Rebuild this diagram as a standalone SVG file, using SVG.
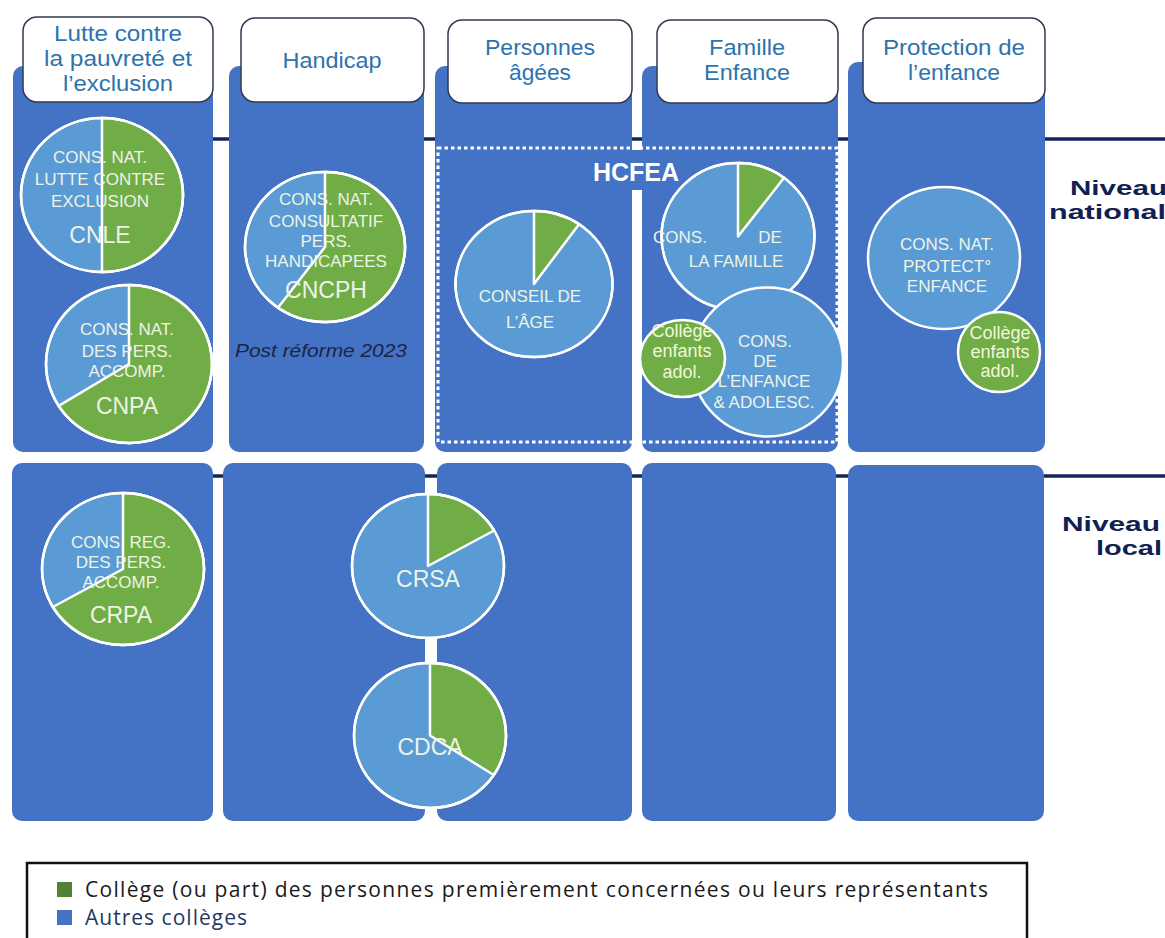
<svg xmlns="http://www.w3.org/2000/svg" width="1165" height="938" viewBox="0 0 1165 938">
<style>
.panel{fill:#4472C4}
.hdr{fill:#fff;stroke:#2F3A4F;stroke-width:1.5}
.htx{font-family:"Liberation Sans",Arial,sans-serif;font-size:21.5px;fill:#2D73AE;text-anchor:middle}
.pb{fill:#5B9BD5;stroke:#fff;stroke-width:2.5}
.pg{fill:#70AD47;stroke:#fff;stroke-width:2.5;stroke-linejoin:round}
.ol{fill:none;stroke:#fff;stroke-width:2.5}
.t{font-family:"Liberation Sans",Arial,sans-serif;font-size:17px;fill:#EEF3E6;text-anchor:middle}
.tb{font-family:"Liberation Sans",Arial,sans-serif;font-size:23px;fill:#EEF3E6;text-anchor:middle}
.tc{font-family:"Liberation Sans",Arial,sans-serif;font-size:18px;fill:#F2F6DA;text-anchor:middle}
.lvl{stroke:#13255A;stroke-width:3.5;fill:none}
.niv{font-family:"Liberation Sans",Arial,sans-serif;font-weight:bold;font-size:21px;fill:#0F2152}
.leg{font-family:"Open Sans","Liberation Sans",sans-serif;font-size:21px}
</style>
<rect width="1165" height="938" fill="#fff"/>
<g id="level-lines">
<line class="lvl" x1="213" y1="139" x2="1165" y2="139"/>
<line class="lvl" x1="213" y1="476" x2="1165" y2="476"/>
</g>
<g id="panels-national">
<rect class="panel" x="13" y="66" width="200" height="386" rx="10"/>
<rect class="panel" x="229" y="66" width="195" height="386" rx="10"/>
<rect class="panel" x="435" y="66" width="197" height="386" rx="10"/>
<rect class="panel" x="642" y="66" width="196" height="386" rx="10"/>
<rect class="panel" x="848" y="62" width="197" height="390" rx="10"/>
</g>
<g id="panels-local">
<rect class="panel" x="12" y="463" width="201" height="358" rx="10"/>
<rect class="panel" x="223" y="463" width="202" height="358" rx="10"/>
<rect class="panel" x="437" y="463" width="195" height="358" rx="10"/>
<rect class="panel" x="642" y="463" width="194" height="358" rx="10"/>
<rect class="panel" x="848" y="465" width="196" height="356" rx="10"/>
</g>
<g id="header-pauvrete">
<rect class="hdr" x="23" y="17" width="190" height="85" rx="14"/>
<text class="htx" x="118" y="41" textLength="128" lengthAdjust="spacingAndGlyphs">Lutte contre</text>
<text class="htx" x="118" y="65.5" textLength="148" lengthAdjust="spacingAndGlyphs">la pauvreté et</text>
<text class="htx" x="118" y="90.5" textLength="110" lengthAdjust="spacingAndGlyphs">l’exclusion</text>
</g>
<g id="header-handicap">
<rect class="hdr" x="241" y="18" width="183" height="84" rx="14"/>
<text class="htx" x="332" y="68" textLength="99" lengthAdjust="spacingAndGlyphs">Handicap</text>
</g>
<g id="header-agees">
<rect class="hdr" x="448" y="20" width="184" height="83" rx="14"/>
<text class="htx" x="540" y="55" textLength="110" lengthAdjust="spacingAndGlyphs">Personnes</text>
<text class="htx" x="540" y="80" textLength="62" lengthAdjust="spacingAndGlyphs">âgées</text>
</g>
<g id="header-famille">
<rect class="hdr" x="657" y="20" width="181" height="83" rx="14"/>
<text class="htx" x="747" y="55" textLength="76" lengthAdjust="spacingAndGlyphs">Famille</text>
<text class="htx" x="747" y="80" textLength="86" lengthAdjust="spacingAndGlyphs">Enfance</text>
</g>
<g id="header-protection">
<rect class="hdr" x="863" y="18" width="182" height="85" rx="14"/>
<text class="htx" x="954" y="55" textLength="142" lengthAdjust="spacingAndGlyphs">Protection de</text>
<text class="htx" x="954" y="80" textLength="92" lengthAdjust="spacingAndGlyphs">l’enfance</text>
</g>
<g id="hcfea">
<rect x="590" y="150" width="94" height="40" fill="#4472C4"/>
<rect x="438" y="148" width="399" height="294" fill="none" stroke="#fff" stroke-width="3" stroke-dasharray="3.5 3"/>
<text x="636" y="181" font-family="Liberation Sans,Arial,sans-serif" font-weight="bold" font-size="25" fill="#fff" text-anchor="middle">HCFEA</text>
</g>
<g id="cnle">
<ellipse class="pb" cx="102" cy="195" rx="81" ry="77"/>
<path class="pg" d="M102,195 L102,118 A81,77 0 0 1 102,272 Z"/>
<ellipse class="ol" cx="102" cy="195" rx="81" ry="77"/>
<text class="t" x="100" y="163">CONS. NAT.</text>
<text class="t" x="100" y="185">LUTTE CONTRE</text>
<text class="t" x="100" y="207">EXCLUSION</text>
<text class="tb" x="100" y="243">CNLE</text>
</g>
<g id="cnpa">
<ellipse class="pb" cx="129" cy="364" rx="83" ry="79"/>
<path class="pg" d="M129,364 L129,285 A83,79 0 1 1 58.61,405.86 Z"/>
<ellipse class="ol" cx="129" cy="364" rx="83" ry="79"/>
<text class="t" x="127" y="335">CONS. NAT.</text>
<text class="t" x="127" y="357">DES PERS.</text>
<text class="t" x="127" y="377">ACCOMP.</text>
<text class="tb" x="127" y="414">CNPA</text>
</g>
<g id="cncph">
<ellipse class="pb" cx="325" cy="247" rx="80" ry="75"/>
<path class="pg" d="M325,247 L325,172 A80,75 0 1 1 277.98,307.68 Z"/>
<ellipse class="ol" cx="325" cy="247" rx="80" ry="75"/>
<text class="t" x="326" y="205">CONS. NAT.</text>
<text class="t" x="326" y="227">CONSULTATIF</text>
<text class="t" x="326" y="247">PERS.</text>
<text class="t" x="326" y="267">HANDICAPEES</text>
<text class="tb" x="326" y="298">CNCPH</text>
</g>
<g id="post-reforme">
<text x="235" y="357" font-family="Liberation Sans,Arial,sans-serif" font-style="italic" font-size="18" fill="#1B2545" textLength="172" lengthAdjust="spacingAndGlyphs">Post réforme 2023</text>
</g>
<g id="conseil-age">
<ellipse class="pb" cx="534" cy="284" rx="78.5" ry="73"/>
<path class="pg" d="M534,284 L534,211 A78.5,73 0 0 1 579.03,224.2 Z"/>
<ellipse class="ol" cx="534" cy="284" rx="78.5" ry="73"/>
<text class="t" x="530" y="302" font-size="18">CONSEIL DE</text>
<text class="t" x="530" y="328" font-size="18">L’ÂGE</text>
</g>
<g id="cons-famille">
<ellipse class="pb" cx="738" cy="236.5" rx="76.5" ry="73.5"/>
<path class="pg" d="M738,236.5 L738,163 A76.5,73.5 0 0 1 784.04,177.8 Z"/>
<ellipse class="ol" cx="738" cy="236.5" rx="76.5" ry="73.5"/>
<text class="t" x="680" y="243" text-anchor="start">CONS.</text>
<text class="t" x="770" y="243" text-anchor="start">DE</text>
<text class="t" x="736" y="267">LA FAMILLE</text>
</g>
<g id="cons-enfance">
<ellipse class="pb" cx="767.5" cy="362" rx="75.5" ry="74.5"/>
<text class="t" x="765" y="347">CONS.</text>
<text class="t" x="765" y="367">DE</text>
<text class="t" x="764" y="387">L’ENFANCE</text>
<text class="t" x="764" y="408">&amp; ADOLESC.</text>
</g>
<g id="college-hcfea">
<ellipse class="pg" cx="682.5" cy="358.5" rx="42.5" ry="38.5"/>
<text class="tc" x="682" y="337">Collège</text>
<text class="tc" x="682" y="357">enfants</text>
<text class="tc" x="682" y="378">adol.</text>
</g>
<g id="cnpe">
<ellipse class="pb" cx="944" cy="258" rx="76" ry="71"/>
<text class="t" x="947" y="250" font-size="18.5">CONS. NAT.</text>
<text class="t" x="947" y="272" font-size="18.5">PROTECT°</text>
<text class="t" x="947" y="292" font-size="18.5">ENFANCE</text>
</g>
<g id="college-protection">
<ellipse class="pg" cx="999" cy="352" rx="41" ry="40"/>
<text class="tc" x="1000" y="339">Collège</text>
<text class="tc" x="1000" y="358">enfants</text>
<text class="tc" x="1000" y="377">adol.</text>
</g>
<g id="crpa">
<ellipse class="pb" cx="123" cy="569" rx="81" ry="76"/>
<path class="pg" d="M123,569 L123,493 A81,76 0 1 1 52.85,607 Z"/>
<ellipse class="ol" cx="123" cy="569" rx="81" ry="76"/>
<text class="t" x="121" y="548">CONS. REG.</text>
<text class="t" x="121" y="568">DES PERS.</text>
<text class="t" x="121" y="588">ACCOMP.</text>
<text class="tb" x="121" y="623">CRPA</text>
</g>
<g id="crsa">
<ellipse class="pb" cx="428" cy="566" rx="76" ry="72"/>
<path class="pg" d="M428,566 L428,494 A76,72 0 0 1 494.1,530.5 Z"/>
<ellipse class="ol" cx="428" cy="566" rx="76" ry="72"/>
<text class="tb" x="428" y="587" font-size="26">CRSA</text>
</g>
<g id="cdca">
<ellipse class="pb" cx="430" cy="735.5" rx="76" ry="72.5"/>
<path class="pg" d="M430,735.5 L430,663 A76,72.5 0 0 1 493.74,774.98 Z"/>
<ellipse class="ol" cx="430" cy="735.5" rx="76" ry="72.5"/>
<text class="tb" x="430" y="755" font-size="26">CDCA</text>
</g>
<g id="niveau-national">
<text class="niv" x="1070" y="195" textLength="97" lengthAdjust="spacingAndGlyphs">Niveau</text>
<text class="niv" x="1049" y="219" textLength="117" lengthAdjust="spacingAndGlyphs">national</text>
</g>
<g id="niveau-local">
<text class="niv" x="1062" y="531" textLength="98" lengthAdjust="spacingAndGlyphs">Niveau</text>
<text class="niv" x="1096" y="555" textLength="66" lengthAdjust="spacingAndGlyphs">local</text>
</g>
<g id="legend">
<rect x="27" y="863" width="1000" height="120" fill="#fff" stroke="#111" stroke-width="2.5"/>
<rect x="57" y="882" width="15" height="15" fill="#548235"/>
<text class="leg" x="85" y="897" fill="#1a1a1a" textLength="903" lengthAdjust="spacing">Collège (ou part) des personnes premièrement concernées ou leurs représentants</text>
<rect x="57" y="910" width="15" height="15" fill="#4472C4"/>
<text class="leg" x="85" y="925" fill="#1F3864" textLength="162" lengthAdjust="spacing">Autres collèges</text>
</g>
</svg>
